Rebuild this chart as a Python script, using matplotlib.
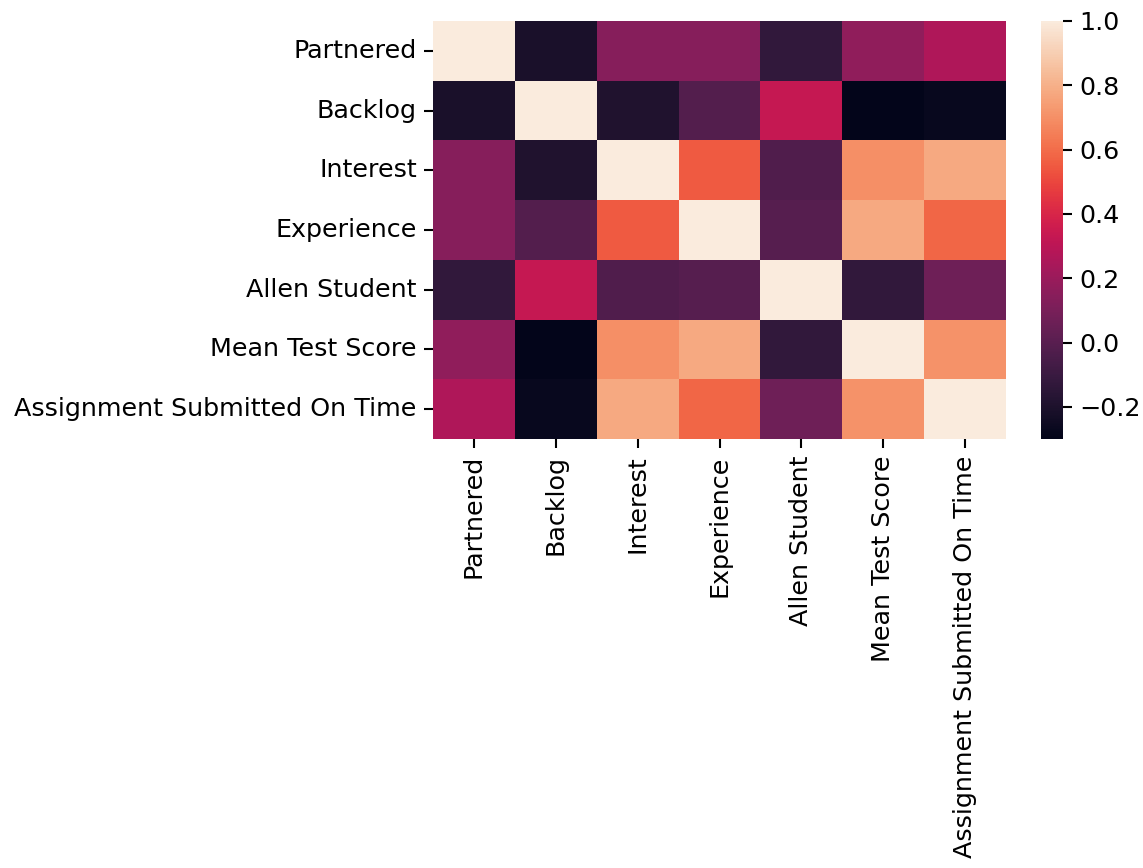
import matplotlib

matplotlib.use("Agg")
import matplotlib.pyplot as plt
import numpy as np
import pandas as pd
import seaborn as sns

labels = [
    "Partnered",
    "Backlog",
    "Interest",
    "Experience",
    "Allen Student",
    "Mean Test Score",
    "Assignment Submitted On Time",
]

# correlation matrix, row by row
partnered = [1.0, -0.21, 0.14, 0.14, -0.13, 0.17, 0.26]
backlog = [-0.21, 1.0, -0.19, -0.02, 0.33, -0.30, -0.27]
interest = [0.14, -0.19, 1.0, 0.55, -0.03, 0.70, 0.78]
experience = [0.14, -0.02, 0.55, 1.0, -0.01, 0.78, 0.58]
allen = [-0.13, 0.33, -0.03, -0.01, 1.0, -0.13, 0.07]
mean_score = [0.17, -0.30, 0.70, 0.78, -0.13, 1.0, 0.71]
on_time = [0.26, -0.27, 0.78, 0.58, 0.07, 0.71, 1.0]

corr = pd.DataFrame(
    np.array([partnered, backlog, interest, experience, allen, mean_score, on_time]),
    index=labels,
    columns=labels,
)

W, H, DPI = 1143, 868, 150
fig = plt.figure(figsize=(W / DPI, H / DPI), dpi=DPI)
ax = fig.add_axes([433 / W, (H - 439) / H, (1006 - 433) / W, (439 - 21) / H])
cax = fig.add_axes([1041 / W, (H - 439) / H, (1063 - 1041) / W, (439 - 21) / H])

sns.heatmap(corr, ax=ax, cbar_ax=cax)
ax.tick_params(axis="both", labelsize=12.2, length=4.3, width=1.0)
cax.tick_params(labelsize=12.2, length=4.3, width=1.0)

fig.savefig("out.png", dpi=DPI)
